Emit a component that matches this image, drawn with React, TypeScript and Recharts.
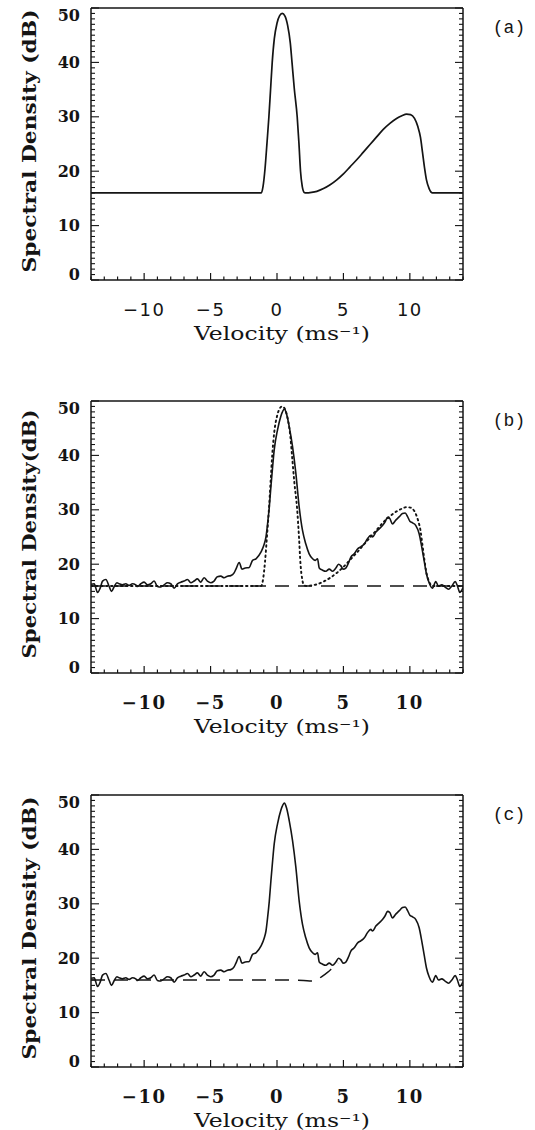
import React from 'react';
import { LineChart, Line, XAxis, YAxis } from 'recharts';

// tick labels
const velocityTicks = [-10, -5, 0, 5, 10];
const densityTicks = [0, 10, 20, 30, 40, 50];

// model spectrum, drawn solid in (a) and dotted in (b)
const modelVel = [
  -14, -1.18, -1.05, -0.9, -0.75, -0.61, -0.48, -0.36, -0.2, 0.0, 0.2, 0.39, 0.6, 0.8, 1.0, 1.13,
  1.3, 1.52, 1.65, 1.77, 1.9, 2.05, 2.2, 2.6, 3.0, 3.5, 4.0, 4.5, 5.0, 5.5, 6.0, 6.5, 7.0, 7.5,
  8.0, 8.5, 9.0, 9.4, 9.75, 10.05, 10.35, 10.6, 10.8, 10.95, 11.1, 11.25, 11.45, 11.7, 14,
];
const modelDb = [
  16, 16, 17.2, 20.5, 25.3, 30, 35.2, 40, 44.4, 47.2, 48.6, 49.0, 48.5, 46.8, 43.6, 40,
  35.2, 30, 25.2, 20, 17.2, 16.1, 16, 16.1, 16.3, 16.8, 17.5, 18.4, 19.5, 20.8, 22.1, 23.5, 24.9, 26.3,
  27.7, 28.8, 29.7, 30.2, 30.5, 30.4, 29.7, 28.2, 26.2, 23.5, 20.7, 18.4, 16.8, 16.0, 16,
];

// measured spectrum, (b) and (c)
const observedVel = [
  -14.0, -13.76, -13.51, -13.31, -13.13, -12.88, -12.63, -12.46, -12.25, -12.05, -11.88, -11.63,
  -11.38, -11.13, -10.88, -10.63, -10.5, -10.25, -10.0, -9.75, -9.5, -9.25, -9.0, -8.75, -8.5,
  -8.25, -8.0, -7.74, -7.49, -7.24, -6.99, -6.74, -6.49, -6.24, -5.99, -5.74, -5.49, -5.24, -4.99,
  -4.74, -4.49, -4.23, -3.98, -3.73, -3.48, -3.23, -3.09, -2.84, -2.64, -2.39, -2.09, -1.84, -1.58,
  -1.21, -0.96, -0.83, -0.71, -0.58, -0.46, -0.33, -0.21, 0.04, 0.29, 0.55, 0.72, 0.92, 1.17, 1.42,
  1.67, 1.92, 2.17, 2.42, 2.68, 2.88, 3.05, 3.18, 3.43, 3.68, 3.93, 4.18, 4.43, 4.63, 4.81, 4.98,
  5.18, 5.39, 5.56, 5.81, 6.06, 6.31, 6.56, 6.81, 7.06, 7.19, 7.44, 7.69, 7.94, 8.14, 8.32, 8.49,
  8.69, 8.94, 9.19, 9.45, 9.65, 9.82, 10.0, 10.2, 10.45, 10.7, 10.9, 11.07, 11.25, 11.45, 11.7,
  11.95, 12.15, 12.4, 12.65, 12.9, 13.16, 13.41, 13.58, 13.76, 14.0,
];
const observedDb = [
  16.3, 16.4, 14.8, 15.6, 16.9, 17.2, 15.9, 15.0, 15.9, 16.6, 16.4, 16.2,
  16.4, 16.1, 16.4, 16.2, 15.9, 16.4, 16.7, 16.2, 16.4, 16.9, 15.9, 15.8, 16.2,
  16.6, 16.4, 15.6, 16.4, 16.7, 16.9, 17.2, 16.6, 16.9, 17.3, 16.7, 17.5, 16.9, 16.6,
  16.9, 17.7, 17.8, 17.5, 17.8, 17.9, 18.4, 19.1, 20.3, 19.1, 19.3, 19.4, 20.7, 21.0,
  22.2, 23.7, 25.0, 27.4, 30.5, 34.2, 37.9, 41.0, 44.7, 47.2, 48.5, 47.6, 45.3, 41.6, 36.7,
  30.5, 26.2, 23.7, 21.9, 21.0, 20.7, 21.0, 19.3, 18.9, 18.7, 19.1, 18.7, 19.3, 20.0, 19.7, 19.1,
  19.3, 20.3, 21.3, 21.9, 22.8, 23.2, 23.7, 24.7, 25.3, 25.0, 25.9, 26.5, 27.1, 27.8, 28.6, 28.4,
  27.4, 28.1, 28.7, 29.3, 29.4, 28.8, 27.9, 27.6, 27.1, 25.6, 23.1, 20.7, 18.2, 16.6, 15.6,
  16.8, 16.0, 16.2, 15.8, 15.4, 16.0, 16.8, 16.0, 14.8, 15.7,
];

// noise floor, dashed in (b)
const floorVel = [-14, 14];
const floorDb = [16, 16];

// clutter fit, dashed in (c)
const fitVel = [-14, -6, 0, 2, 2.6, 3.0, 3.3, 3.8, 4.3, 4.6];
const fitDb = [16, 16, 16, 15.9, 15.8, 16.0, 16.5, 17.4, 18.5, 19.1];

const zip = (xs: number[], ys: number[]) => xs.map((x, i) => ({ x, y: ys[i] }));

const INK = '#141414';
const W = 535;
const PLOT_L = 91;
const PLOT_R = 463;
const PLOT_H = 272;

const xAll = Array.from({ length: 29 }, (_, i) => i - 14);
const yAll = Array.from({ length: 51 }, (_, i) => i);

const fmt = (v: number) => (v < 0 ? `\u2212${Math.abs(v)}` : `${v}`);

function BottomTick(props: any) {
  const { x, y, payload, sans } = props;
  const v = payload.value;
  const major = v % 5 === 0;
  return (
    <g>
      <line x1={x} y1={y} x2={x} y2={y - (major ? 7 : 3.5)} stroke={INK} strokeWidth={1.2} />
      {velocityTicks.includes(v) && (
        <text
          x={x}
          y={y + 29}
          textAnchor="middle"
          dominantBaseline="central"
          fill={INK}
          fontFamily={sans ? 'DejaVu Sans' : 'DejaVu Serif'}
          fontWeight={sans ? 'normal' : 'bold'}
          fontSize={18}
          letterSpacing={1.5}
        >
          {fmt(v)}
        </text>
      )}
    </g>
  );
}

function TopTick(props: any) {
  const { x, y, payload } = props;
  const major = payload.value % 5 === 0;
  return <line x1={x} y1={y} x2={x} y2={y + (major ? 6 : 3)} stroke={INK} strokeWidth={1.2} />;
}

function LeftTick(props: any) {
  const { x, y, payload } = props;
  const v = payload.value;
  const major = v % 10 === 0;
  const shift = v === 50 ? 7 : v === 0 ? -6 : 0;
  return (
    <g>
      <line x1={x} y1={y} x2={x + (major ? 8 : 4)} y2={y} stroke={INK} strokeWidth={1.1} />
      {densityTicks.includes(v) && (
        <text
          x={x - 11}
          y={y + shift}
          textAnchor="end"
          dominantBaseline="central"
          fill={INK}
          fontFamily="DejaVu Serif"
          fontWeight="bold"
          fontSize={16}
        >
          {v}
        </text>
      )}
    </g>
  );
}

function RightTick(props: any) {
  const { x, y, payload } = props;
  const major = payload.value % 10 === 0;
  return <line x1={x} y1={y} x2={x - (major ? 8 : 4)} y2={y} stroke={INK} strokeWidth={1.1} />;
}

function VelocityLabel(props: any) {
  const { viewBox } = props;
  const cx = viewBox.x + viewBox.width / 2 + 5;
  return (
    <text
      x={cx}
      y={viewBox.y + 53}
      textAnchor="middle"
      dominantBaseline="central"
      fill={INK}
      fontFamily="DejaVu Serif"
      fontSize={18}
      textLength={176}
      lengthAdjust="spacingAndGlyphs"
    >
      Velocity (ms⁻¹)
    </text>
  );
}

function DensityLabel(props: any) {
  const { viewBox, text, length } = props;
  const cx = 29;
  const cy = viewBox.y + viewBox.height / 2 - 3;
  return (
    <text
      x={cx}
      y={cy}
      transform={`rotate(-90 ${cx} ${cy})`}
      textAnchor="middle"
      dominantBaseline="central"
      fill={INK}
      fontFamily="DejaVu Serif"
      fontWeight="bold"
      fontSize={19}
      textLength={length}
      lengthAdjust="spacingAndGlyphs"
    >
      {text}
    </text>
  );
}

function PanelLetter(props: any) {
  const { viewBox, letter } = props;
  return (
    <text
      x={509}
      y={viewBox.y + 20}
      textAnchor="middle"
      dominantBaseline="central"
      fill={INK}
      fontFamily="Liberation Mono"
      fontSize={18}
    >
      {letter}
    </text>
  );
}

type Series = { data: { x: number; y: number }[]; dash?: string; width?: number };

interface PanelProps {
  top: number;
  letter: string;
  yTitle: string;
  yTitleLength: number;
  sans?: boolean;
  series: Series[];
}

function Panel({ top, letter, yTitle, yTitleLength, sans, series }: PanelProps) {
  const axisLine = { stroke: INK, strokeWidth: 1.5 };
  return (
    <div style={{ position: 'absolute', left: 0, top: top - 7 }}>
      <LineChart
        width={W}
        height={7 + PLOT_H + 60 + 30}
        margin={{ top: 6, right: W - PLOT_R - 1, bottom: 30, left: PLOT_L - 60 }}
      >
        <XAxis
          xAxisId="b"
          type="number"
          dataKey="x"
          domain={[-14, 14]}
          allowDataOverflow
          ticks={xAll}
          interval={0}
          tickSize={0}
          tickMargin={0}
          tickLine={false}
          axisLine={axisLine}
          height={60}
          tick={(p: any) => <BottomTick {...p} sans={sans} />}
          label={<VelocityLabel />}
        />
        <XAxis
          xAxisId="t"
          orientation="top"
          type="number"
          domain={[-14, 14]}
          allowDataOverflow
          ticks={xAll}
          interval={0}
          tickSize={0}
          tickMargin={0}
          tickLine={false}
          axisLine={axisLine}
          height={1}
          tick={(p: any) => <TopTick {...p} />}
        />
        <YAxis
          yAxisId="l"
          type="number"
          domain={[0, 50]}
          allowDataOverflow
          ticks={yAll}
          interval={0}
          tickSize={0}
          tickMargin={0}
          tickLine={false}
          axisLine={axisLine}
          width={60}
          tick={(p: any) => <LeftTick {...p} />}
          label={<DensityLabel text={yTitle} length={yTitleLength} />}
        />
        <YAxis
          yAxisId="r"
          orientation="right"
          type="number"
          domain={[0, 50]}
          allowDataOverflow
          ticks={yAll}
          interval={0}
          tickSize={0}
          tickMargin={0}
          tickLine={false}
          axisLine={axisLine}
          width={1}
          tick={(p: any) => <RightTick {...p} />}
          label={<PanelLetter letter={letter} />}
        />
        {series.map((s, i) => (
          <Line
            key={i}
            xAxisId="b"
            yAxisId="l"
            data={s.data}
            dataKey="y"
            type="monotone"
            stroke={INK}
            strokeWidth={s.width ?? 1.6}
            strokeDasharray={s.dash}
            strokeLinecap={s.dash === '1.5 3.5' ? 'round' : 'butt'}
            dot={false}
            activeDot={false}
            isAnimationActive={false}
          />
        ))}
      </LineChart>
    </div>
  );
}

export default function App() {
  const model = zip(modelVel, modelDb);
  const observed = zip(observedVel, observedDb);
  const floor = zip(floorVel, floorDb);
  const fit = zip(fitVel, fitDb);
  return (
    <div
      style={{
        position: 'absolute',
        left: 0,
        top: 0,
        width: W,
        height: 1130,
        background: '#fff',
        overflow: 'hidden',
      }}
    >
      <Panel
        top={7.5}
        letter="(a)"
        yTitle="Spectral Density (dB)"
        yTitleLength={263}
        sans
        series={[{ data: model, width: 1.7 }]}
      />
      <Panel
        top={401}
        letter="(b)"
        yTitle="Spectral Density(dB)"
        yTitleLength={249}
        series={[
          { data: floor, dash: '14 9', width: 1.4 },
          { data: model, dash: '1.5 3.5', width: 1.9 },
          { data: observed, width: 1.6 },
        ]}
      />
      <Panel
        top={794.5}
        letter="(c)"
        yTitle="Spectral Density (dB)"
        yTitleLength={263}
        series={[
          { data: fit, dash: '14 9', width: 1.4 },
          { data: observed, width: 1.6 },
        ]}
      />
    </div>
  );
}
